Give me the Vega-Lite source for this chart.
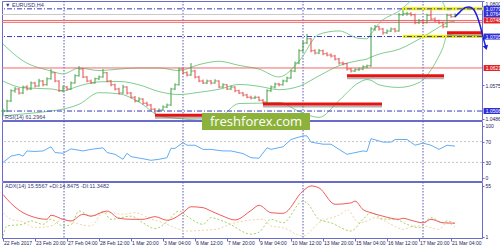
{
 "$schema": "https://vega.github.io/schema/vega-lite/v6.json",
 "background": "white",
 "padding": {"left": 0, "top": 0, "right": 0, "bottom": 0},
 "spacing": 1,
 "bounds": "flush",
 "config": {
  "font": "Liberation Sans",
  "view": {"stroke": "#6b6bc9", "strokeWidth": 1},
  "axis": {"labelFont": "Liberation Sans", "labelFontSize": 5, "labelColor": "#22225e", "domainColor": "#6b6bc9", "tickColor": "#6b6bc9", "grid": false, "tickSize": 2, "labelPadding": 1, "domain": false, "labelOverlap": false}
 },
 "datasets": {
  "seps": [{"i": 15.25}, {"i": 45}, {"i": 75}, {"i": 105}],
  "times": [
   {"i":0,"t":"22 Feb 2017"},{"i":8,"t":"23 Feb 20:00"},{"i":16,"t":"27 Feb 04:00"},{"i":24,"t":"28 Feb 12:00"},
   {"i":32,"t":"1 Mar 20:00"},{"i":40,"t":"3 Mar 04:00"},{"i":48,"t":"6 Mar 12:00"},{"i":56,"t":"7 Mar 20:00"},
   {"i":64,"t":"9 Mar 04:00"},{"i":72,"t":"10 Mar 12:00"},{"i":80,"t":"13 Mar 20:00"},{"i":88,"t":"15 Mar 04:00"},
   {"i":96,"t":"16 Mar 12:00"},{"i":104,"t":"17 Mar 20:00"},{"i":112,"t":"21 Mar 04:00"}
  ],
  "bars": [
   {"i":0,"o":1.0506,"h":1.0512,"l":1.0495,"c":1.0506},
   {"i":1,"o":1.0506,"h":1.0536,"l":1.0503,"c":1.0533},
   {"i":2,"o":1.0533,"h":1.0564,"l":1.0530,"c":1.0560},
   {"i":3,"o":1.0560,"h":1.0570,"l":1.0555,"c":1.0565},
   {"i":4,"o":1.0565,"h":1.0568,"l":1.0550,"c":1.0554},
   {"i":5,"o":1.0554,"h":1.0574,"l":1.0551,"c":1.0570},
   {"i":6,"o":1.0570,"h":1.0575,"l":1.0561,"c":1.0565},
   {"i":7,"o":1.0565,"h":1.0585,"l":1.0562,"c":1.0581},
   {"i":8,"o":1.0581,"h":1.0584,"l":1.0569,"c":1.0573},
   {"i":9,"o":1.0573,"h":1.0592,"l":1.0571,"c":1.0586},
   {"i":10,"o":1.0586,"h":1.0589,"l":1.0572,"c":1.0576},
   {"i":11,"o":1.0576,"h":1.0596,"l":1.0574,"c":1.0592},
   {"i":12,"o":1.0592,"h":1.0618,"l":1.0590,"c":1.0608},
   {"i":13,"o":1.0608,"h":1.0610,"l":1.0583,"c":1.0586},
   {"i":14,"o":1.0586,"h":1.0588,"l":1.0557,"c":1.0560},
   {"i":15,"o":1.0560,"h":1.0574,"l":1.0556,"c":1.0570},
   {"i":16,"o":1.0570,"h":1.0573,"l":1.0561,"c":1.0565},
   {"i":17,"o":1.0565,"h":1.0585,"l":1.0563,"c":1.0581},
   {"i":18,"o":1.0581,"h":1.0604,"l":1.0579,"c":1.0600},
   {"i":19,"o":1.0600,"h":1.0626,"l":1.0598,"c":1.0618},
   {"i":20,"o":1.0618,"h":1.0620,"l":1.0594,"c":1.0597},
   {"i":21,"o":1.0597,"h":1.0599,"l":1.0583,"c":1.0586},
   {"i":22,"o":1.0586,"h":1.0590,"l":1.0578,"c":1.0581},
   {"i":23,"o":1.0581,"h":1.0595,"l":1.0579,"c":1.0592},
   {"i":24,"o":1.0592,"h":1.0601,"l":1.0589,"c":1.0597},
   {"i":25,"o":1.0597,"h":1.0618,"l":1.0595,"c":1.0608},
   {"i":26,"o":1.0608,"h":1.0610,"l":1.0583,"c":1.0586},
   {"i":27,"o":1.0586,"h":1.0589,"l":1.0572,"c":1.0576},
   {"i":28,"o":1.0576,"h":1.0579,"l":1.0561,"c":1.0565},
   {"i":29,"o":1.0565,"h":1.0568,"l":1.0550,"c":1.0554},
   {"i":30,"o":1.0554,"h":1.0576,"l":1.0552,"c":1.0570},
   {"i":31,"o":1.0570,"h":1.0572,"l":1.0550,"c":1.0554},
   {"i":32,"o":1.0554,"h":1.0557,"l":1.0540,"c":1.0543},
   {"i":33,"o":1.0543,"h":1.0546,"l":1.0529,"c":1.0533},
   {"i":34,"o":1.0533,"h":1.0543,"l":1.0530,"c":1.0538},
   {"i":35,"o":1.0538,"h":1.0540,"l":1.0523,"c":1.0527},
   {"i":36,"o":1.0527,"h":1.0531,"l":1.0518,"c":1.0522},
   {"i":37,"o":1.0522,"h":1.0525,"l":1.0508,"c":1.0511},
   {"i":38,"o":1.0511,"h":1.0514,"l":1.0498,"c":1.0506},
   {"i":39,"o":1.0506,"h":1.0513,"l":1.0503,"c":1.0509},
   {"i":40,"o":1.0509,"h":1.0521,"l":1.0506,"c":1.0517},
   {"i":41,"o":1.0517,"h":1.0526,"l":1.0514,"c":1.0522},
   {"i":42,"o":1.0522,"h":1.0568,"l":1.0520,"c":1.0565},
   {"i":43,"o":1.0565,"h":1.0580,"l":1.0562,"c":1.0576},
   {"i":44,"o":1.0576,"h":1.0622,"l":1.0574,"c":1.0618},
   {"i":45,"o":1.0618,"h":1.0621,"l":1.0604,"c":1.0608},
   {"i":46,"o":1.0608,"h":1.0612,"l":1.0598,"c":1.0602},
   {"i":47,"o":1.0602,"h":1.0634,"l":1.0600,"c":1.0613},
   {"i":48,"o":1.0613,"h":1.0616,"l":1.0593,"c":1.0597},
   {"i":49,"o":1.0597,"h":1.0600,"l":1.0583,"c":1.0586},
   {"i":50,"o":1.0586,"h":1.0590,"l":1.0578,"c":1.0581},
   {"i":51,"o":1.0581,"h":1.0590,"l":1.0578,"c":1.0586},
   {"i":52,"o":1.0586,"h":1.0589,"l":1.0577,"c":1.0581},
   {"i":53,"o":1.0581,"h":1.0591,"l":1.0579,"c":1.0586},
   {"i":54,"o":1.0586,"h":1.0588,"l":1.0567,"c":1.0570},
   {"i":55,"o":1.0570,"h":1.0580,"l":1.0567,"c":1.0576},
   {"i":56,"o":1.0576,"h":1.0578,"l":1.0562,"c":1.0565},
   {"i":57,"o":1.0565,"h":1.0574,"l":1.0562,"c":1.0570},
   {"i":58,"o":1.0570,"h":1.0572,"l":1.0556,"c":1.0560},
   {"i":59,"o":1.0560,"h":1.0563,"l":1.0551,"c":1.0554},
   {"i":60,"o":1.0554,"h":1.0557,"l":1.0545,"c":1.0549},
   {"i":61,"o":1.0549,"h":1.0552,"l":1.0540,"c":1.0543},
   {"i":62,"o":1.0543,"h":1.0547,"l":1.0537,"c":1.0541},
   {"i":63,"o":1.0541,"h":1.0547,"l":1.0538,"c":1.0543},
   {"i":64,"o":1.0543,"h":1.0545,"l":1.0532,"c":1.0535},
   {"i":65,"o":1.0535,"h":1.0538,"l":1.0525,"c":1.0530},
   {"i":66,"o":1.0530,"h":1.0564,"l":1.0528,"c":1.0560},
   {"i":67,"o":1.0560,"h":1.0574,"l":1.0557,"c":1.0570},
   {"i":68,"o":1.0570,"h":1.0582,"l":1.0566,"c":1.0578},
   {"i":69,"o":1.0578,"h":1.0581,"l":1.0572,"c":1.0576},
   {"i":70,"o":1.0576,"h":1.0590,"l":1.0574,"c":1.0586},
   {"i":71,"o":1.0586,"h":1.0598,"l":1.0583,"c":1.0594},
   {"i":72,"o":1.0594,"h":1.0617,"l":1.0592,"c":1.0613},
   {"i":73,"o":1.0613,"h":1.0638,"l":1.0610,"c":1.0634},
   {"i":74,"o":1.0634,"h":1.0671,"l":1.0631,"c":1.0667},
   {"i":75,"o":1.0667,"h":1.0693,"l":1.0664,"c":1.0688},
   {"i":76,"o":1.0688,"h":1.0712,"l":1.0685,"c":1.0699},
   {"i":77,"o":1.0699,"h":1.0701,"l":1.0663,"c":1.0667},
   {"i":78,"o":1.0667,"h":1.0671,"l":1.0657,"c":1.0661},
   {"i":79,"o":1.0661,"h":1.0672,"l":1.0658,"c":1.0667},
   {"i":80,"o":1.0667,"h":1.0670,"l":1.0655,"c":1.0659},
   {"i":81,"o":1.0659,"h":1.0663,"l":1.0652,"c":1.0656},
   {"i":82,"o":1.0656,"h":1.0660,"l":1.0649,"c":1.0653},
   {"i":83,"o":1.0653,"h":1.0656,"l":1.0641,"c":1.0645},
   {"i":84,"o":1.0645,"h":1.0648,"l":1.0630,"c":1.0634},
   {"i":85,"o":1.0634,"h":1.0638,"l":1.0628,"c":1.0632},
   {"i":86,"o":1.0632,"h":1.0635,"l":1.0614,"c":1.0618},
   {"i":87,"o":1.0618,"h":1.0621,"l":1.0609,"c":1.0613},
   {"i":88,"o":1.0613,"h":1.0620,"l":1.0610,"c":1.0616},
   {"i":89,"o":1.0616,"h":1.0622,"l":1.0613,"c":1.0618},
   {"i":90,"o":1.0618,"h":1.0628,"l":1.0615,"c":1.0624},
   {"i":91,"o":1.0624,"h":1.0630,"l":1.0620,"c":1.0627},
   {"i":92,"o":1.0627,"h":1.0730,"l":1.0624,"c":1.0725},
   {"i":93,"o":1.0725,"h":1.0736,"l":1.0720,"c":1.0731},
   {"i":94,"o":1.0731,"h":1.0734,"l":1.0721,"c":1.0725},
   {"i":95,"o":1.0725,"h":1.0728,"l":1.0710,"c":1.0715},
   {"i":96,"o":1.0715,"h":1.0724,"l":1.0712,"c":1.0720},
   {"i":97,"o":1.0720,"h":1.0729,"l":1.0717,"c":1.0725},
   {"i":98,"o":1.0725,"h":1.0728,"l":1.0716,"c":1.0720},
   {"i":99,"o":1.0720,"h":1.0768,"l":1.0718,"c":1.0763},
   {"i":100,"o":1.0763,"h":1.0777,"l":1.0760,"c":1.0766},
   {"i":101,"o":1.0766,"h":1.0771,"l":1.0761,"c":1.0766},
   {"i":102,"o":1.0766,"h":1.0770,"l":1.0759,"c":1.0763},
   {"i":103,"o":1.0763,"h":1.0766,"l":1.0738,"c":1.0742},
   {"i":104,"o":1.0742,"h":1.0752,"l":1.0739,"c":1.0747},
   {"i":105,"o":1.0747,"h":1.0750,"l":1.0738,"c":1.0742},
   {"i":106,"o":1.0742,"h":1.0766,"l":1.0740,"c":1.0762},
   {"i":107,"o":1.0762,"h":1.0779,"l":1.0749,"c":1.0752},
   {"i":108,"o":1.0752,"h":1.0756,"l":1.0743,"c":1.0747},
   {"i":109,"o":1.0747,"h":1.0750,"l":1.0738,"c":1.0742},
   {"i":110,"o":1.0742,"h":1.0745,"l":1.0727,"c":1.0731},
   {"i":111,"o":1.0731,"h":1.0766,"l":1.0729,"c":1.0762},
   {"i":112,"o":1.0762,"h":1.0766,"l":1.0755,"c":1.0758},
   {"i":113,"o":1.0758,"h":1.0767,"l":1.0756,"c":1.0764}
  ],
  "bb": [
   {"i":0,"up":1.0685,"mid":1.0586,"lo":1.0493},
   {"i":5,"up":1.0640,"mid":1.0568,"lo":1.0498},
   {"i":12,"up":1.0613,"mid":1.0565,"lo":1.0506},
   {"i":15,"up":1.0605,"mid":1.0560,"lo":1.0511},
   {"i":19,"up":1.0621,"mid":1.0573,"lo":1.0524},
   {"i":24,"up":1.0614,"mid":1.0584,"lo":1.0555},
   {"i":29,"up":1.0618,"mid":1.0585,"lo":1.0552},
   {"i":34,"up":1.0621,"mid":1.0576,"lo":1.0530},
   {"i":39,"up":1.0621,"mid":1.0558,"lo":1.0494},
   {"i":44,"up":1.0614,"mid":1.0550,"lo":1.0486},
   {"i":49,"up":1.0630,"mid":1.0556,"lo":1.0482},
   {"i":54,"up":1.0639,"mid":1.0564,"lo":1.0489},
   {"i":59,"up":1.0628,"mid":1.0577,"lo":1.0526},
   {"i":64,"up":1.0618,"mid":1.0572,"lo":1.0527},
   {"i":69,"up":1.0597,"mid":1.0563,"lo":1.0529},
   {"i":74,"up":1.0639,"mid":1.0572,"lo":1.0505},
   {"i":79,"up":1.0711,"mid":1.0600,"lo":1.0489},
   {"i":84,"up":1.0720,"mid":1.0627,"lo":1.0534},
   {"i":89,"up":1.0700,"mid":1.0641,"lo":1.0582},
   {"i":91,"up":1.0699,"mid":1.0645,"lo":1.0590},
   {"i":92,"up":1.0712,"mid":1.0650,"lo":1.0588},
   {"i":94,"up":1.0740,"mid":1.0658,"lo":1.0576},
   {"i":99,"up":1.0773,"mid":1.0671,"lo":1.0569},
   {"i":104,"up":1.0814,"mid":1.0698,"lo":1.0582},
   {"i":107,"up":1.0819,"mid":1.0717,"lo":1.0616},
   {"i":109,"up":1.0807,"mid":1.0730,"lo":1.0653},
   {"i":110,"up":1.0795,"mid":1.0736,"lo":1.0676},
   {"i":111,"up":1.0776,"mid":1.0742,"lo":1.0708},
   {"i":113,"up":1.0779,"mid":1.0746,"lo":1.0713}
  ],
  "levels": [
   {"p":1.0779,"k":"blue"},{"p":1.0705,"k":"blue"},{"p":1.0506,"k":"blue"},
   {"p":1.0764,"k":"gray"},
   {"p":1.0748,"k":"red"},{"p":1.0743,"k":"red"},{"p":1.0621,"k":"red"}
  ],
  "segs": [
   {"a":99.75,"b":120,"p":1.0779,"k":"yellow"},
   {"a":100,"b":120,"p":1.0705,"k":"yellow"},
   {"a":38,"b":62,"p":1.0495,"k":"red"},
   {"a":65,"b":94.75,"p":1.0525,"k":"red"},
   {"a":86,"b":110.25,"p":1.0600,"k":"red"},
   {"a":111,"b":120,"p":1.0715,"k":"red"}
  ],
  "arrow": [
   {"n":1,"i":113,"p":1.0758},{"n":2,"i":114.25,"p":1.0771},{"n":3,"i":115.5,"p":1.0782},
   {"n":4,"i":116.5,"p":1.0784},{"n":5,"i":117.5,"p":1.0779},{"n":6,"i":118.5,"p":1.0760},
   {"n":7,"i":119.25,"p":1.0736},{"n":8,"i":120,"p":1.0704},{"n":9,"i":120.75,"p":1.0675}
  ],
  "tags": [
   {"p":1.0779,"k":"blue"},{"p":1.0764,"k":"blue"},{"p":1.0748,"k":"red"},
   {"p":1.0705,"k":"blue"},{"p":1.0621,"k":"red"},{"p":1.0506,"k":"blue"}
  ],
  "rsi": [
   {"i":0,"v":30},{"i":2,"v":42},{"i":4,"v":45.5},{"i":5,"v":42},{"i":6,"v":52},{"i":8,"v":51},
   {"i":10,"v":52},{"i":12,"v":60},{"i":13,"v":49},{"i":15,"v":47.5},{"i":17,"v":56},{"i":20,"v":52},
   {"i":22,"v":55},{"i":25,"v":58},{"i":26,"v":49},{"i":28,"v":45.5},{"i":30,"v":36},{"i":31,"v":47.5},
   {"i":32,"v":41},{"i":35,"v":37},{"i":37,"v":34},{"i":39,"v":36},{"i":41,"v":39},{"i":42,"v":57},
   {"i":43,"v":57},{"i":45,"v":68},{"i":46,"v":63},{"i":48,"v":63},{"i":50,"v":55},{"i":52,"v":55},
   {"i":55,"v":52},{"i":57,"v":52},{"i":60,"v":47},{"i":62,"v":39},{"i":64,"v":38},{"i":66,"v":58},
   {"i":67,"v":55},{"i":70,"v":60},{"i":72,"v":74},{"i":75,"v":81},{"i":76,"v":81},{"i":77,"v":69},
   {"i":80,"v":65},{"i":82,"v":65},{"i":84,"v":55},{"i":86,"v":45.5},{"i":90,"v":52},{"i":91,"v":51},
   {"i":92,"v":75.6},{"i":95,"v":69},{"i":97,"v":69},{"i":98,"v":74},{"i":101,"v":74},{"i":103,"v":63},
   {"i":105,"v":67},{"i":107,"v":63},{"i":109,"v":55},{"i":111,"v":63},{"i":113,"v":61.3}
  ],
  "adx": [
   {"s":"ADX","i":0,"v":46},{"s":"ADX","i":1,"v":41},{"s":"ADX","i":5,"v":26.7},{"s":"ADX","i":7,"v":23},
   {"s":"ADX","i":11,"v":19.7},{"s":"ADX","i":12,"v":24},{"s":"ADX","i":15,"v":19.7},{"s":"ADX","i":17,"v":18},
   {"s":"ADX","i":20,"v":25},{"s":"ADX","i":22,"v":23},{"s":"ADX","i":26,"v":28.5},{"s":"ADX","i":29,"v":20.8},
   {"s":"ADX","i":32,"v":19.7},{"s":"ADX","i":35,"v":19.7},{"s":"ADX","i":38,"v":22.5},{"s":"ADX","i":41,"v":18.7},
   {"s":"ADX","i":45,"v":26.7},{"s":"ADX","i":47,"v":33},{"s":"ADX","i":50,"v":32},{"s":"ADX","i":52,"v":28.5},
   {"s":"ADX","i":55,"v":23},{"s":"ADX","i":58,"v":19},{"s":"ADX","i":62,"v":29},{"s":"ADX","i":64,"v":34.5},
   {"s":"ADX","i":67,"v":26.7},{"s":"ADX","i":70,"v":26},{"s":"ADX","i":75,"v":49.7},{"s":"ADX","i":77,"v":55},
   {"s":"ADX","i":79,"v":53},{"s":"ADX","i":83,"v":35.6},{"s":"ADX","i":87,"v":37},{"s":"ADX","i":88,"v":39},
   {"s":"ADX","i":90,"v":30},{"s":"ADX","i":92,"v":26.7},{"s":"ADX","i":95,"v":23},{"s":"ADX","i":99,"v":19.7},
   {"s":"ADX","i":100,"v":20.8},{"s":"ADX","i":102,"v":18.7},{"s":"ADX","i":105,"v":16},{"s":"ADX","i":107,"v":19.7},
   {"s":"ADX","i":110,"v":16},{"s":"ADX","i":113,"v":15.6},
   {"s":"+DI","i":0,"v":2},{"s":"+DI","i":1,"v":12.6},{"s":"+DI","i":5,"v":14.4},{"s":"+DI","i":7,"v":18},
   {"s":"+DI","i":10,"v":14.4},{"s":"+DI","i":12,"v":19.7},{"s":"+DI","i":15,"v":12.6},{"s":"+DI","i":17,"v":14},
   {"s":"+DI","i":19,"v":28.5},{"s":"+DI","i":22,"v":23},{"s":"+DI","i":25,"v":27.5},{"s":"+DI","i":27,"v":19.7},
   {"s":"+DI","i":32,"v":23},{"s":"+DI","i":35,"v":16},{"s":"+DI","i":38,"v":9.8},{"s":"+DI","i":41,"v":17},
   {"s":"+DI","i":44,"v":28.5},{"s":"+DI","i":46,"v":23},{"s":"+DI","i":50,"v":14.4},{"s":"+DI","i":52,"v":21.4},
   {"s":"+DI","i":56,"v":16},{"s":"+DI","i":62,"v":4},{"s":"+DI","i":64,"v":6},{"s":"+DI","i":67,"v":19.7},
   {"s":"+DI","i":70,"v":16},{"s":"+DI","i":75,"v":39},{"s":"+DI","i":76,"v":37},{"s":"+DI","i":79,"v":19.7},
   {"s":"+DI","i":82,"v":16},{"s":"+DI","i":87,"v":7.3},{"s":"+DI","i":90,"v":19.7},{"s":"+DI","i":92,"v":26.7},
   {"s":"+DI","i":95,"v":20},{"s":"+DI","i":98,"v":19.7},{"s":"+DI","i":101,"v":14.4},{"s":"+DI","i":104,"v":10.8},
   {"s":"+DI","i":107,"v":21.4},{"s":"+DI","i":110,"v":16},{"s":"+DI","i":111,"v":18},{"s":"+DI","i":113,"v":14.85},
   {"s":"-DI","i":0,"v":26.7},{"s":"-DI","i":2,"v":19.7},{"s":"-DI","i":5,"v":17},{"s":"-DI","i":8,"v":10.8},
   {"s":"-DI","i":12,"v":12.6},{"s":"-DI","i":15,"v":19.7},{"s":"-DI","i":17,"v":17},{"s":"-DI","i":22,"v":12.6},
   {"s":"-DI","i":25,"v":26.7},{"s":"-DI","i":27,"v":26.7},{"s":"-DI","i":30,"v":25},{"s":"-DI","i":33,"v":26.7},
   {"s":"-DI","i":37,"v":20},{"s":"-DI","i":40,"v":16},{"s":"-DI","i":43,"v":10.8},{"s":"-DI","i":46,"v":7.3},
   {"s":"-DI","i":50,"v":8},{"s":"-DI","i":53,"v":9},{"s":"-DI","i":58,"v":16},{"s":"-DI","i":62,"v":19},
   {"s":"-DI","i":65,"v":19.7},{"s":"-DI","i":67,"v":12.6},{"s":"-DI","i":70,"v":10.8},{"s":"-DI","i":75,"v":2},
   {"s":"-DI","i":79,"v":16},{"s":"-DI","i":85,"v":26.7},{"s":"-DI","i":86,"v":30},{"s":"-DI","i":89,"v":16},
   {"s":"-DI","i":91,"v":18},{"s":"-DI","i":93,"v":21.4},{"s":"-DI","i":97,"v":14.4},{"s":"-DI","i":100,"v":9.1},
   {"s":"-DI","i":103,"v":12.6},{"s":"-DI","i":105,"v":12.6},{"s":"-DI","i":109,"v":9.1},{"s":"-DI","i":111,"v":16},
   {"s":"-DI","i":113,"v":11.35}
  ]
 },
 "vconcat": [
  {
   "width": 480, "height": 119,
   "title": {"text": "▼ EURUSD,H4", "anchor": "start", "frame": "group", "offset": -8, "dx": 3, "fontSize": 5.5, "fontWeight": "normal", "color": "#3a3a7a", "font": "Liberation Sans"},
   "layer": [
    {"data": {"name": "seps"}, "mark": {"type": "rule", "color": "#5656b4", "strokeDash": [1.5, 1.5], "strokeWidth": 1},
     "encoding": {"x": {"field": "i", "type": "quantitative", "scale": {"domain": [-0.25, 119.75], "nice": false, "zero": false}, "axis": null}}},
    {"data": {"name": "bb"}, "mark": {"type": "line", "color": "#7fcf90", "strokeWidth": 1, "interpolate": "monotone", "clip": true},
     "encoding": {"x": {"field": "i", "type": "quantitative", "axis": null},
      "y": {"field": "up", "type": "quantitative", "title": null, "scale": {"domain": [1.0482, 1.08], "nice": false, "zero": false},
       "axis": {"orient": "right", "values": [1.08, 1.0665, 1.0575, 1.053, 1.0486], "format": ".4f", "labelFlush": true}}}},
    {"data": {"name": "bb"}, "mark": {"type": "line", "color": "#7fcf90", "strokeWidth": 1, "interpolate": "monotone", "clip": true},
     "encoding": {"x": {"field": "i", "type": "quantitative", "axis": null}, "y": {"field": "mid", "type": "quantitative"}}},
    {"data": {"name": "bb"}, "mark": {"type": "line", "color": "#7fcf90", "strokeWidth": 1, "interpolate": "monotone", "clip": true},
     "encoding": {"x": {"field": "i", "type": "quantitative", "axis": null}, "y": {"field": "lo", "type": "quantitative"}}},
    {"data": {"name": "levels"}, "transform": [{"filter": "datum.k === 'red'"}], "mark": {"type": "rule", "color": "#f06868", "strokeWidth": 1},
     "encoding": {"y": {"field": "p", "type": "quantitative"}}},
    {"data": {"name": "levels"}, "transform": [{"filter": "datum.k === 'gray'"}], "mark": {"type": "rule", "color": "#c8c8c8", "strokeWidth": 1},
     "encoding": {"y": {"field": "p", "type": "quantitative"}}},
    {"data": {"name": "bars"}, "mark": {"type": "rule", "strokeWidth": 1},
     "encoding": {"x": {"field": "i", "type": "quantitative", "axis": null}, "y": {"field": "l", "type": "quantitative"}, "y2": {"field": "h"},
      "color": {"condition": {"test": "datum.c >= datum.o", "value": "#3f9f3f"}, "value": "#e54848"}}},
    {"data": {"name": "bars"}, "mark": {"type": "tick", "orient": "horizontal", "size": 2, "thickness": 1, "xOffset": -1},
     "encoding": {"x": {"field": "i", "type": "quantitative", "axis": null}, "y": {"field": "o", "type": "quantitative"},
      "color": {"condition": {"test": "datum.c >= datum.o", "value": "#3f9f3f"}, "value": "#e54848"}}},
    {"data": {"name": "bars"}, "mark": {"type": "tick", "orient": "horizontal", "size": 2, "thickness": 1, "xOffset": 1},
     "encoding": {"x": {"field": "i", "type": "quantitative", "axis": null}, "y": {"field": "c", "type": "quantitative"},
      "color": {"condition": {"test": "datum.c >= datum.o", "value": "#3f9f3f"}, "value": "#e54848"}}},
    {"data": {"name": "segs"}, "transform": [{"filter": "datum.k === 'yellow'"}], "mark": {"type": "rule", "color": "#eeee00", "strokeWidth": 3},
     "encoding": {"x": {"field": "a", "type": "quantitative", "axis": null}, "x2": {"field": "b"}, "y": {"field": "p", "type": "quantitative"}}},
    {"data": {"name": "levels"}, "transform": [{"filter": "datum.k === 'blue'"}], "mark": {"type": "rule", "color": "#3434c8", "strokeWidth": 1, "strokeDash": [5, 2, 1, 2]},
     "encoding": {"y": {"field": "p", "type": "quantitative"}}},
    {"data": {"name": "segs"}, "transform": [{"filter": "datum.k === 'red'"}], "mark": {"type": "rule", "color": "#808080", "opacity": 0.6, "strokeWidth": 2, "yOffset": 2.5},
     "encoding": {"x": {"field": "a", "type": "quantitative", "axis": null}, "x2": {"field": "b"}, "y": {"field": "p", "type": "quantitative"}}},
    {"data": {"name": "segs"}, "transform": [{"filter": "datum.k === 'red'"}], "mark": {"type": "rule", "color": "#e81212", "strokeWidth": 3},
     "encoding": {"x": {"field": "a", "type": "quantitative", "axis": null}, "x2": {"field": "b"}, "y": {"field": "p", "type": "quantitative"}}},
    {"data": {"name": "tags"}, "transform": [{"filter": "datum.k === 'blue'"}], "mark": {"type": "tick", "orient": "horizontal", "size": 18, "thickness": 6, "color": "#2f2fd6", "opacity": 1},
     "encoding": {"x": {"datum": 122.4, "type": "quantitative", "axis": null}, "y": {"field": "p", "type": "quantitative"}}},
    {"data": {"name": "tags"}, "transform": [{"filter": "datum.k === 'red'"}], "mark": {"type": "tick", "orient": "horizontal", "size": 18, "thickness": 6, "color": "#e02424", "opacity": 1},
     "encoding": {"x": {"datum": 122.4, "type": "quantitative", "axis": null}, "y": {"field": "p", "type": "quantitative"}}},
    {"data": {"name": "tags"}, "mark": {"type": "text", "align": "left", "baseline": "middle", "fontSize": 5, "color": "#ffffff", "font": "Liberation Sans"},
     "encoding": {"x": {"datum": 120.7, "type": "quantitative", "axis": null}, "y": {"field": "p", "type": "quantitative"},
      "text": {"field": "p", "type": "quantitative", "format": ".4f"}}},
    {"data": {"name": "arrow"}, "mark": {"type": "line", "color": "#1c1ce0", "strokeWidth": 1.5, "interpolate": "monotone"},
     "encoding": {"x": {"field": "i", "type": "quantitative", "axis": null}, "y": {"field": "p", "type": "quantitative"}}},
    {"data": {"name": "arrow"}, "transform": [{"filter": "datum.n === 9"}], "mark": {"type": "point", "shape": "triangle-down", "filled": true, "size": 30, "color": "#1c1ce0", "angle": 345, "opacity": 1},
     "encoding": {"x": {"field": "i", "type": "quantitative", "axis": null}, "y": {"field": "p", "type": "quantitative"}}}
   ]
  },
  {
   "width": 480, "height": 60,
   "title": {"text": "RSI(14) 61.2964", "anchor": "start", "frame": "group", "offset": -8, "dx": 3, "fontSize": 5.5, "fontWeight": "normal", "color": "#3a3a7a", "font": "Liberation Sans"},
   "resolve": {"axis": {"x": "independent", "y": "independent"}},
   "layer": [
    {"data": {"name": "seps"}, "mark": {"type": "rule", "color": "#5656b4", "strokeDash": [1.5, 1.5], "strokeWidth": 1},
     "encoding": {"x": {"field": "i", "type": "quantitative", "scale": {"domain": [-0.25, 119.75], "nice": false, "zero": false}, "axis": null}}},
    {"data": {"values": [{"v": 70}, {"v": 30}]}, "mark": {"type": "rule", "color": "#c4c4c4", "strokeDash": [2, 2], "strokeWidth": 1},
     "encoding": {"y": {"field": "v", "type": "quantitative", "title": null, "scale": {"domain": [-5.8, 109.6], "nice": false, "zero": false},
      "axis": {"orient": "right", "values": [100, 70, 30, 0]}}}},
    {"data": {"name": "rsi"}, "mark": {"type": "line", "color": "#62acf4", "strokeWidth": 1},
     "encoding": {"x": {"field": "i", "type": "quantitative", "axis": null}, "y": {"field": "v", "type": "quantitative", "axis": null}}},
    {"data": {"values": [{"w": "freshforex.com"}]}, "mark": {"type": "rect", "color": "#8cb23c", "opacity": 1},
     "encoding": {"x": {"datum": 49.75, "type": "quantitative", "axis": null}, "x2": {"datum": 76.75}, "y": {"datum": 125, "type": "quantitative", "axis": null}, "y2": {"datum": 92.3}}},
    {"data": {"values": [{"w": "freshforex.com"}]}, "mark": {"type": "text", "font": "Open Sans", "fontSize": 13, "color": "#ffffff", "align": "center", "baseline": "middle"},
     "encoding": {"x": {"datum": 63.25, "type": "quantitative", "axis": null}, "y": {"datum": 107.5, "type": "quantitative", "axis": null}, "text": {"field": "w", "type": "nominal"}}}
   ]
  },
  {
   "width": 480, "height": 56,
   "title": {"text": "ADX(14) 15.5567 +DI:14.8475 -DI:11.3482", "anchor": "start", "frame": "group", "offset": -8, "dx": 3, "fontSize": 5.5, "fontWeight": "normal", "color": "#3a3a7a", "font": "Liberation Sans"},
   "resolve": {"axis": {"x": "independent", "y": "independent"}},
   "layer": [
    {"data": {"name": "seps"}, "mark": {"type": "rule", "color": "#5656b4", "strokeDash": [1.5, 1.5], "strokeWidth": 1},
     "encoding": {"x": {"field": "i", "type": "quantitative", "scale": {"domain": [-0.25, 119.75], "nice": false, "zero": false}, "axis": null}}},
    {"data": {"name": "adx"}, "transform": [{"filter": "datum.s === '-DI'"}], "mark": {"type": "line", "strokeWidth": 1, "interpolate": "monotone", "color": "#f2d4a2", "strokeDash": [2, 2]},
     "encoding": {"x": {"field": "i", "type": "quantitative", "axis": null}, "y": {"field": "v", "type": "quantitative", "axis": null}}},
    {"data": {"name": "adx"}, "transform": [{"filter": "datum.s === '+DI'"}], "mark": {"type": "line", "strokeWidth": 1, "interpolate": "monotone", "color": "#a8d25c", "strokeDash": [2, 2]},
     "encoding": {"x": {"field": "i", "type": "quantitative", "axis": null}, "y": {"field": "v", "type": "quantitative", "axis": null}}},
    {"data": {"name": "adx"}, "transform": [{"filter": "datum.s === 'ADX'"}], "mark": {"type": "line", "strokeWidth": 1, "interpolate": "monotone", "color": "#f25c5c"},
     "encoding": {
      "x": {"field": "i", "type": "quantitative", "title": null,
       "axis": {"orient": "bottom", "values": [0, 8, 16, 24, 32, 40, 48, 56, 64, 72, 80, 88, 96, 104, 112], "labels": false, "tickSize": 3, "domain": true}},
      "y": {"field": "v", "type": "quantitative", "title": null, "scale": {"domain": [-0.1, 59.2], "nice": false, "zero": false}, "axis": {"orient": "right", "values": [55, 1]}}
     }},
    {"data": {"name": "times"}, "mark": {"type": "text", "align": "left", "baseline": "top", "fontSize": 5, "font": "Liberation Sans", "color": "#22225e", "dx": 1},
     "encoding": {"x": {"field": "i", "type": "quantitative", "axis": null}, "y": {"datum": -3.6, "type": "quantitative", "axis": null}, "text": {"field": "t", "type": "nominal"}}}
   ]
  }
 ]
}
